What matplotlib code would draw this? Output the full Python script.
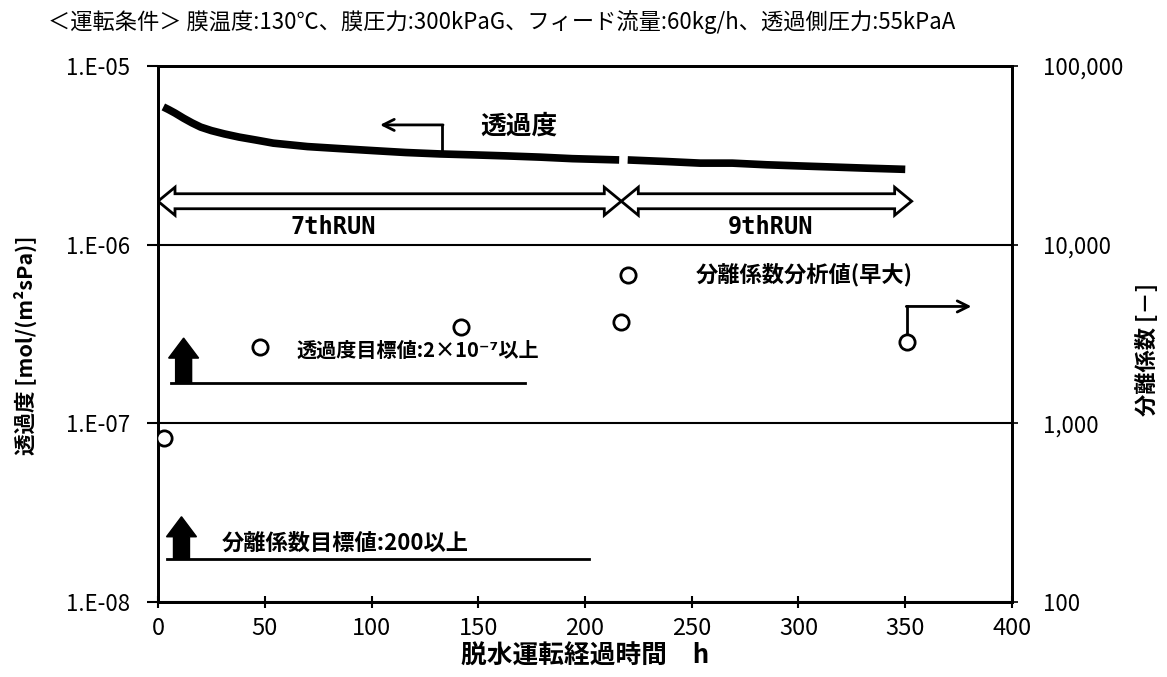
import matplotlib
matplotlib.use("Agg")
import matplotlib.pyplot as plt
from matplotlib.patches import Polygon
from matplotlib.transforms import IdentityTransform
from matplotlib.ticker import FixedLocator, FixedFormatter, NullLocator

plt.rcParams['font.family'] = ['Noto Sans CJK JP', 'DejaVu Sans']

# ---- data ----
# 透過度 trend, 7thRUN and 9thRUN  [h], [mol/(m2 s Pa)]
run7_h = [2.5, 5, 8, 12, 16, 20, 25, 31, 38, 46, 54, 70, 85, 101, 116, 132, 148, 163, 179, 194, 216]
run7_perm = [5.9e-6, 5.7e-6, 5.45e-6, 5.1e-6, 4.8e-6, 4.55e-6, 4.35e-6, 4.17e-6, 4.0e-6, 3.85e-6,
             3.7e-6, 3.54e-6, 3.45e-6, 3.36e-6, 3.28e-6, 3.22e-6, 3.18e-6, 3.14e-6, 3.09e-6, 3.03e-6,
             2.98e-6]
run9_h = [220, 238, 254, 269, 285, 300, 316, 332, 350]
run9_perm = [2.98e-6, 2.92e-6, 2.86e-6, 2.86e-6, 2.80e-6, 2.76e-6, 2.72e-6, 2.68e-6, 2.64e-6]

# 分離係数分析値(早大)
sep_h = [3, 48, 142, 217, 220, 351]
sep_val = [830, 2660, 3480, 3715, 6800, 2840]

# targets (lines sit a little under the nominal values in the original)
perm_target = 1.68e-7
sep_target = 175

run_bounds = [0, 217, 353]
run_names = ['7thRUN', '9thRUN']
run_label_h = [82, 287]

x_ticks = [0, 50, 100, 150, 200, 250, 300, 350, 400]
left_ticks = [1e-8, 1e-7, 1e-6, 1e-5]
left_labels = ['1.E-08', '1.E-07', '1.E-06', '1.E-05']
right_ticks = [100, 1000, 10000, 100000]
right_labels = ['100', '1,000', '10,000', '100,000']

W, H = 1167, 677
fig = plt.figure(figsize=(W / 100, H / 100), dpi=100)
ax = fig.add_axes([158 / W, 1 - 602 / H, 854 / W, 536 / H])
ax2 = ax.twinx()

ax.set_xlim(0, 400)
ax.set_yscale('log')
ax.set_ylim(1e-8, 1e-5)
ax2.set_yscale('log')
ax2.set_ylim(100, 100000)

# ticks
ax.xaxis.set_major_locator(FixedLocator(x_ticks))
ax.yaxis.set_major_locator(FixedLocator(left_ticks))
ax.yaxis.set_major_formatter(FixedFormatter(left_labels))
ax.yaxis.set_minor_locator(NullLocator())
ax2.yaxis.set_major_locator(FixedLocator(right_ticks))
ax2.yaxis.set_major_formatter(FixedFormatter(right_labels))
ax2.yaxis.set_minor_locator(NullLocator())

ax.tick_params(axis='x', direction='inout', length=8, width=1.5, labelsize=17, pad=7)
ax.tick_params(axis='y', direction='out', length=8, width=1.5, labelsize=16, pad=12)
ax2.tick_params(axis='y', direction='out', length=4, width=1.2, labelsize=16, pad=18)

for a in (ax, ax2):
    for s in a.spines.values():
        s.set_linewidth(2)
        s.set_color('black')

ax.yaxis.grid(True, color='black', lw=1.5)
ax.set_axisbelow(True)

# permeance trend
ax.plot(run7_h, run7_perm, color='black', lw=5.5, solid_capstyle='butt', solid_joinstyle='round')
ax.plot(run9_h, run9_perm, color='black', lw=5.5, solid_capstyle='butt', solid_joinstyle='round')


def px(a, x, y):
    return a.transData.transform((x, y))


def hollow_arrow_pts(a, x0, x1, y, shaft=7.5, head=14, hl=17):
    p0x, py = px(a, x0, y)
    p1x, _ = px(a, x1, y)
    return [(p0x, py), (p0x + hl, py + head), (p0x + hl, py + shaft), (p1x - hl, py + shaft),
            (p1x - hl, py + head), (p1x, py), (p1x - hl, py - head), (p1x - hl, py - shaft),
            (p0x + hl, py - shaft), (p0x + hl, py - head)]


# RUN range double arrows: fills first, outlines after so heads cross like an X
arrow_y = 1.75e-6
shapes = [hollow_arrow_pts(ax, run_bounds[i], run_bounds[i + 1], arrow_y) for i in range(2)]
for pts in shapes:
    ax.add_patch(Polygon(pts, closed=True, transform=IdentityTransform(), fc='white', ec='none', zorder=3))
for pts in shapes:
    ax.add_patch(Polygon(pts, closed=True, transform=IdentityTransform(), fc='none', ec='black',
                         lw=2, zorder=4, joinstyle='miter'))
for name, xh in zip(run_names, run_label_h):
    ax.text(xh, 1.26e-6, name, ha='center', va='center', fontsize=17, fontweight='bold',
            family='DejaVu Sans Mono')


def block_up_arrow(a, x, y0, y1, shaft=8, head=15, hl=20):
    bx, by = px(a, x, y0)
    _, ty = px(a, x, y1)
    pts = [(bx - shaft, by), (bx - shaft, ty - hl), (bx - head, ty - hl), (bx, ty),
           (bx + head, ty - hl), (bx + shaft, ty - hl), (bx + shaft, by)]
    a.add_patch(Polygon(pts, closed=True, transform=IdentityTransform(), fc='black', ec='black',
                        lw=1, zorder=4))


# permeance target
ax.plot([6, 172], [perm_target, perm_target], color='black', lw=2)
block_up_arrow(ax, 12, perm_target, 3.0e-7)
ax.text(65, 2.55e-7, '透過度目標値:2×10⁻⁷以上', ha='left', va='center', fontsize=14.5, fontweight='bold')

# separation factor target
ax2.plot([4, 202], [sep_target, sep_target], color='black', lw=2)
block_up_arrow(ax2, 11, sep_target, 300)
ax2.text(30, 212, '分離係数目標値:200以上', ha='left', va='center', fontsize=16, fontweight='bold')

# separation factor points
ax2.plot(sep_h, sep_val, 'o', ls='none', ms=11, mfc='white', mec='black', mew=2, zorder=5)
ax2.text(252, 6800, '分離係数分析値(早大)', ha='left', va='center', fontsize=16, fontweight='bold')
ax2.plot([351, 351], [3050, 4510], color='black', lw=2)
ax2.annotate('', xy=(381, 4510), xytext=(350.5, 4510),
             arrowprops=dict(arrowstyle='->,head_length=0.8,head_width=0.4', lw=2, color='black',
                             shrinkA=0, shrinkB=0))

# permeance label with elbow arrow to the left axis
ax.text(169, 4.6e-6, '透過度', ha='center', va='center', fontsize=18.5, fontweight='bold')
ax.plot([133, 133], [3.4e-6, 4.68e-6], color='black', lw=2)
ax.annotate('', xy=(104, 4.68e-6), xytext=(133.5, 4.68e-6),
            arrowprops=dict(arrowstyle='->,head_length=0.8,head_width=0.4', lw=2, color='black',
                            shrinkA=0, shrinkB=0))

ax.set_xlabel('脱水運転経過時間　h', fontsize=18.5, fontweight='bold', labelpad=2)
fig.text(25 / W, 1 - 345 / H, '透過度 [mol/(m²sPa)]', rotation=90, ha='center', va='center',
         fontsize=15.5, fontweight='bold')
fig.text(1147 / W, 1 - 350 / H, '分離係数 [－]', rotation=90, ha='center', va='center',
         fontsize=16, fontweight='bold')
fig.text(48 / W, 1 - 22 / H, '＜運転条件＞ 膜温度:130℃、膜圧力:300kPaG、フィード流量:60kg/h、透過側圧力:55kPaA',
         ha='left', va='center', fontsize=16)

fig.savefig('out.png', dpi=100)
